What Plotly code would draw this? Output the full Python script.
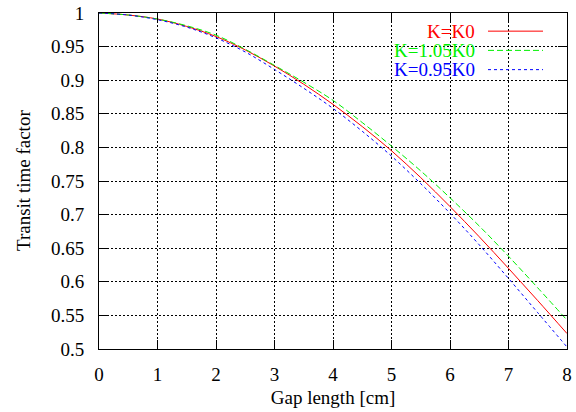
import plotly.graph_objects as go

gap = [0, 0.5, 1, 1.5, 2, 2.5, 3, 3.5, 4, 4.5, 5, 5.5, 6, 6.5, 7, 7.5, 8]
t_k0 = [1, 0.997, 0.991, 0.980, 0.965, 0.945, 0.921, 0.894, 0.864, 0.831, 0.795, 0.755, 0.712, 0.667, 0.620, 0.572, 0.523]
t_k105 = [1, 0.997, 0.991, 0.981, 0.967, 0.946, 0.922, 0.897, 0.870, 0.837, 0.802, 0.765, 0.725, 0.683, 0.638, 0.591, 0.543]
t_k095 = [1, 0.997, 0.990, 0.979, 0.963, 0.942, 0.916, 0.888, 0.858, 0.824, 0.787, 0.746, 0.702, 0.655, 0.605, 0.554, 0.503]

names = ["K=K0", "K=1.05K0", "K=0.95K0"]
series = [t_k0, t_k105, t_k095]
colors = ["#ff0000", "#00f000", "#0000ff"]
dashes = ["solid", "6px,3px", "3px,3px"]

FONT = "Liberation Serif, Times New Roman, serif"
FS = 19

fig = go.Figure()
for n, s, c, d in zip(names, series, colors, dashes):
    fig.add_trace(go.Scatter(x=gap, y=s, mode="lines", name=n,
                             line=dict(color=c, width=1, dash=d, shape="spline", smoothing=1),
                             showlegend=False))

L, R, T, B = 99, 9, 12.5, 62.5
W, H = 576, 412
pw = W - L - R
ph = H - T - B

def px_x(p):
    return (p - L) / pw

def px_y(p):
    return (H - B - p) / ph

# legend (gnuplot style: text right-aligned, sample to the right)
rows = [30.7, 50.0, 69.3]
for n, c, d, ry in zip(names, colors, dashes, rows):
    fig.add_annotation(xref="paper", yref="paper", x=px_x(477), y=px_y(ry),
                       text=n, showarrow=False, xanchor="right", yanchor="middle",
                       font=dict(family=FONT, size=FS, color=c))
    fig.add_shape(type="line", xref="paper", yref="paper",
                  x0=px_x(488), x1=px_x(543), y0=px_y(ry), y1=px_y(ry),
                  line=dict(color=c, width=1, dash=d))

fig.add_annotation(xref="paper", yref="paper", x=px_x(23), y=px_y(181),
                   text="Transit time factor", textangle=-90, showarrow=False,
                   xanchor="center", yanchor="middle",
                   font=dict(family=FONT, size=FS, color="black"))

axis_common = dict(showline=True, linecolor="black", linewidth=1, mirror="allticks",
                   ticks="inside", ticklen=9, tickcolor="black", tickwidth=1,
                   showgrid=True, gridcolor="black", gridwidth=1, griddash="2px,2px",
                   zeroline=False, automargin=False,
                   tickfont=dict(family=FONT, size=FS, color="black"))

fig.update_xaxes(range=[0, 8], dtick=1, tick0=0, ticklabelstandoff=8,
                 title=dict(text="Gap length [cm]", font=dict(family=FONT, size=FS, color="black"),
                            standoff=6),
                 **axis_common)
fig.update_yaxes(range=[0.5, 1], dtick=0.05, tick0=0.5, ticklabelstandoff=10,
                 **axis_common)

fig.update_layout(width=W, height=H, margin=dict(l=L, r=R, t=T, b=B, autoexpand=False),
                  paper_bgcolor="white", plot_bgcolor="white",
                  font=dict(family=FONT, size=FS, color="black"))

post = (
    "document.documentElement.style.margin='0';"
    "document.documentElement.style.overflow='hidden';"
    "document.body.style.margin='0';document.body.style.padding='0';"
    "document.body.style.overflow='hidden';"
)

fig.write_html("out.html", config={"displayModeBar": False},
               post_script=post)
